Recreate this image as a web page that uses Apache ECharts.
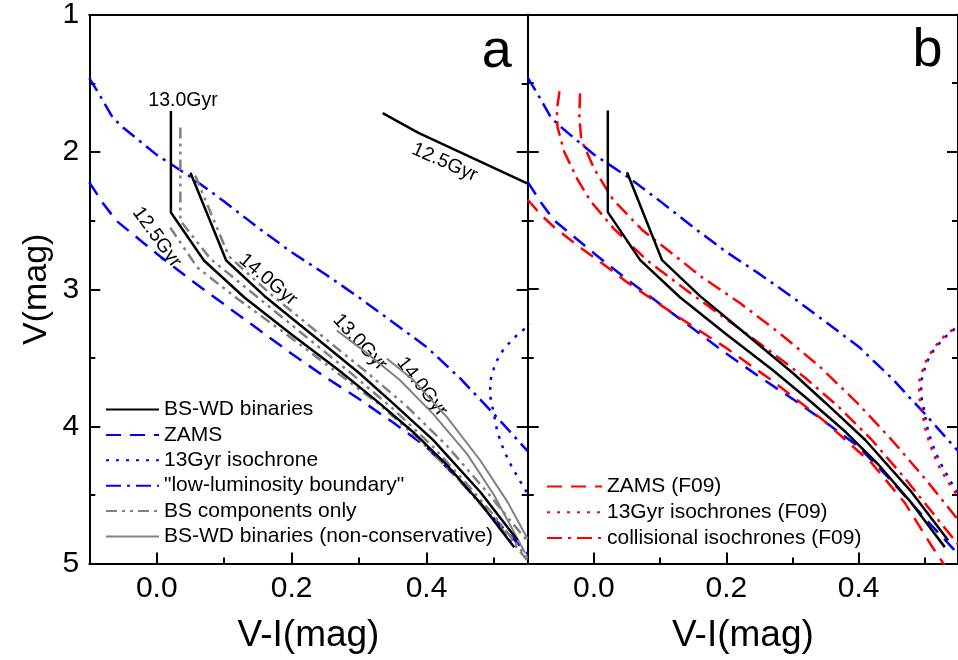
<!DOCTYPE html>
<html>
<head>
<meta charset="utf-8">
<script src="https://cdn.jsdelivr.net/npm/echarts@6/dist/echarts.min.js"></script>
<style>
  html, body { margin: 0; padding: 0; background: #fff; }
  #chart { width: 958px; height: 660px; }
</style>
</head>
<body>
<div id="chart"></div>
<script>
// axis ticks (both panels share the same ranges)
const xMajorTicks = [0, 0.2, 0.4];
const xMinorTicks = [0.1, 0.3, 0.5];

// [V-I, V] pairs
const zams = [[-0.1, 2.22], [-0.08, 2.37], [-0.06, 2.5], [-0.02, 2.66], [0.0, 2.74], [0.05, 2.93], [0.1, 3.11], [0.15, 3.29], [0.2, 3.47], [0.25, 3.64], [0.3, 3.8], [0.35, 3.97], [0.4, 4.15], [0.45, 4.4], [0.5, 4.67], [0.55, 4.93]];
const iso13 = [[0.58, 3.15], [0.55, 3.27], [0.535, 3.33], [0.515, 3.43], [0.502, 3.54], [0.495, 3.66], [0.494, 3.77], [0.499, 3.89], [0.505, 4.04], [0.515, 4.18], [0.527, 4.3], [0.54, 4.41], [0.55, 4.49], [0.57, 4.62]];
const lowLum = [[-0.1, 1.46], [-0.085, 1.58], [-0.065, 1.75], [-0.05, 1.82], [0.0, 2.02], [0.05, 2.18], [0.1, 2.36], [0.15, 2.55], [0.2, 2.73], [0.25, 2.89], [0.3, 3.06], [0.35, 3.24], [0.4, 3.42], [0.45, 3.65], [0.5, 3.91], [0.55, 4.18]];

const bswd13 = [[0.021, 1.7], [0.021, 2.44], [0.07, 2.79], [0.13, 3.06], [0.2, 3.33], [0.27, 3.59], [0.33, 3.83], [0.38, 4.04], [0.43, 4.28], [0.48, 4.56], [0.53, 4.88]];
const bswd14 = [[0.05, 2.15], [0.103, 2.79], [0.16, 3.05], [0.23, 3.33], [0.3, 3.61], [0.35, 3.83], [0.41, 4.1], [0.48, 4.48], [0.535, 4.83]];
const bswd125 = [[0.335, 1.715], [0.388, 1.86], [0.55, 2.23]];

const bsOnly13 = [[0.035, 1.82], [0.035, 2.5], [0.08, 2.78], [0.15, 3.06], [0.22, 3.34], [0.29, 3.62], [0.35, 3.87], [0.41, 4.15], [0.46, 4.42], [0.5, 4.65], [0.55, 4.96]];
const bsOnly125 = [[0.02, 2.55], [0.06, 2.84], [0.12, 3.07], [0.19, 3.32], [0.26, 3.58], [0.33, 3.84], [0.39, 4.1], [0.45, 4.4], [0.5, 4.68], [0.55, 4.98]];
const bsOnly14 = [[0.057, 2.17], [0.107, 2.76], [0.17, 3.04], [0.24, 3.32], [0.31, 3.6], [0.37, 3.85], [0.43, 4.14], [0.49, 4.48], [0.55, 4.84]];

const nonCons13 = [[0.267, 3.3], [0.31, 3.46], [0.36, 3.66], [0.41, 3.91], [0.46, 4.2], [0.5, 4.5], [0.546, 4.92]];
const nonCons14 = [[0.341, 3.505], [0.38, 3.66], [0.43, 3.93], [0.48, 4.25], [0.52, 4.55], [0.55, 4.82]];

const zamsF09 = [[-0.1, 2.35], [-0.08, 2.46], [-0.06, 2.55], [-0.02, 2.7], [0.02, 2.84], [0.05, 2.95], [0.12, 3.18], [0.2, 3.43], [0.27, 3.67], [0.345, 3.95], [0.42, 4.27], [0.47, 4.56], [0.51, 4.87], [0.535, 5.05]];
const iso13F09 = [[0.575, 3.15], [0.55, 3.27], [0.532, 3.33], [0.513, 3.43], [0.5, 3.54], [0.492, 3.66], [0.491, 3.77], [0.496, 3.9], [0.502, 4.05], [0.512, 4.19], [0.523, 4.31], [0.537, 4.42], [0.55, 4.51], [0.57, 4.64]];
const collF09a = [[-0.052, 1.56], [-0.056, 1.7], [-0.055, 1.82], [-0.045, 2.0], [-0.025, 2.2], [-0.005, 2.36], [0.03, 2.56], [0.08, 2.79], [0.14, 3.01], [0.2, 3.22], [0.26, 3.43], [0.32, 3.65], [0.37, 3.86], [0.42, 4.1], [0.47, 4.38], [0.51, 4.62], [0.55, 4.86]];
const collF09b = [[-0.021, 1.575], [-0.022, 1.75], [-0.019, 1.915], [0.001, 2.13], [0.029, 2.35], [0.073, 2.57], [0.123, 2.76], [0.162, 2.91], [0.22, 3.1], [0.28, 3.32], [0.34, 3.56], [0.4, 3.84], [0.45, 4.1], [0.5, 4.38], [0.54, 4.62], [0.56, 4.74]];

// annotations: text, V-I, V, rotation (deg), colour
const notesA = [
  ['13.0Gyr', 0.039, 1.623, 0, '#000'],
  ['12.5Gyr', 0.427, 2.075, -24, '#000'],
  ['12.5Gyr', 0.0, 2.62, -54, '#000'],
  ['14.0Gyr', 0.165, 2.93, -40, '#000'],
  ['13.0Gyr', 0.301, 3.386, -47, '#000'],
  ['14.0Gyr', 0.393, 3.71, -52, '#000']
];

const legendA = ['BS-WD binaries', 'ZAMS', '13Gyr isochrone', '"low-luminosity boundary"', 'BS components only', 'BS-WD binaries (non-conservative)'];
const legendB = ['ZAMS (F09)', '13Gyr isochrones (F09)', 'collisional isochrones (F09)'];

const FONT = '"Liberation Sans", Arial, sans-serif';
const BLUE = '#0000ff', RED = '#ff0000', GRAY = '#808080', BLACK = '#000000';
const DASH = [15, 9], DOT = [3, 7], DASHDOT = [15, 6, 3, 6], DASHDOTDOT = [11, 5, 3, 5, 3, 5];

const chart = echarts.init(document.getElementById('chart'));

const axisLine = { show: true, onZero: false, lineStyle: { color: BLACK, width: 2 } };
const tickStyle = { color: BLACK, width: 2 };

function xAxes(g) {
  const base = { gridIndex: g, type: 'value', min: -0.1, max: 0.55, splitLine: { show: false } };
  return [
    Object.assign({}, base, {
      position: 'bottom',
      axisLine,
      axisTick: { show: true, inside: true, length: 11, customValues: xMajorTicks, lineStyle: tickStyle },
      axisLabel: { customValues: xMajorTicks, formatter: (v) => v.toFixed(1), fontSize: 30, color: BLACK, margin: 10, fontFamily: FONT },
      name: 'V-I(mag)', nameLocation: 'middle', nameGap: 54,
      nameTextStyle: { fontSize: 37, color: BLACK, fontFamily: FONT }
    }),
    Object.assign({}, base, {
      position: 'bottom',
      axisLine: { show: false, onZero: false },
      axisTick: { show: true, inside: true, length: 6, customValues: xMinorTicks, lineStyle: tickStyle },
      axisLabel: { show: false }
    }),
    Object.assign({}, base, {
      position: 'top', axisLine, axisTick: { show: false }, axisLabel: { show: false }
    })
  ];
}

function yAxes(g) {
  const base = {
    gridIndex: g, type: 'value', inverse: true, min: 1, max: 5, interval: 1,
    axisLine,
    axisTick: { show: true, inside: true, length: 11, lineStyle: tickStyle },
    minorTick: { show: true, splitNumber: 2, length: 6, lineStyle: tickStyle },
    splitLine: { show: false }, minorSplitLine: { show: false }
  };
  return [
    Object.assign({}, base, {
      position: 'left',
      axisLabel: { show: g === 0, fontSize: 30, color: BLACK, margin: 10, fontFamily: FONT },
      name: g === 0 ? 'V(mag)' : '', nameLocation: 'middle', nameGap: 36,
      nameTextStyle: { fontSize: 34, color: BLACK, fontFamily: FONT }
    }),
    Object.assign({}, base, { position: 'right', axisLabel: { show: false } })
  ];
}

function line(name, data, panel, color, type, width) {
  return {
    name, type: 'line', data,
    xAxisIndex: panel * 3, yAxisIndex: panel * 2,
    symbol: 'none', silent: true, clip: true,
    lineStyle: { color, type, width },
    itemStyle: { color }
  };
}

const series = [
  // panel a
  line('ZAMS', zams, 0, BLUE, DASH, 2.5),
  line('13Gyr isochrone', iso13, 0, BLUE, DOT, 2.5),
  line('"low-luminosity boundary"', lowLum, 0, BLUE, DASHDOT, 2.5),
  line('BS components only', bsOnly13, 0, GRAY, DASHDOTDOT, 2.5),
  line('BS components only', bsOnly125, 0, GRAY, DASHDOTDOT, 2.5),
  line('BS components only', bsOnly14, 0, GRAY, DASHDOTDOT, 2.5),
  line('BS-WD binaries (non-conservative)', nonCons13, 0, GRAY, 'solid', 2),
  line('BS-WD binaries (non-conservative)', nonCons14, 0, GRAY, 'solid', 2),
  line('BS-WD binaries', bswd13, 0, BLACK, 'solid', 2.5),
  line('BS-WD binaries', bswd14, 0, BLACK, 'solid', 2.5),
  line('BS-WD binaries', bswd125, 0, BLACK, 'solid', 2.5),
  // panel b
  line('ZAMS', zams, 1, BLUE, DASH, 2.5),
  line('13Gyr isochrone', iso13, 1, BLUE, DOT, 2.5),
  line('"low-luminosity boundary"', lowLum, 1, BLUE, DASHDOT, 2.5),
  line('ZAMS (F09)', zamsF09, 1, RED, DASH, 2.5),
  line('13Gyr isochrones (F09)', iso13F09, 1, RED, DOT, 2.5),
  line('collisional isochrones (F09)', collF09a, 1, RED, DASHDOT, 2.5),
  line('collisional isochrones (F09)', collF09b, 1, RED, DASHDOT, 2.5),
  line('BS-WD binaries', bswd13, 1, BLACK, 'solid', 2.5),
  line('BS-WD binaries', bswd14, 1, BLACK, 'solid', 2.5)
];

const legendCommon = {
  orient: 'vertical', itemHeight: 14, selectedMode: false,
  itemStyle: { opacity: 0 },
  textStyle: { fontSize: 21, color: BLACK, fontFamily: FONT }
};

chart.setOption({
  animation: false,
  backgroundColor: '#fff',
  textStyle: { fontFamily: FONT },
  grid: [
    { left: 89.3, top: 14.4, width: 438.4, height: 549.2 },
    { left: 527.7, top: 14.4, width: 438.4, height: 549.2 }
  ],
  xAxis: xAxes(0).concat(xAxes(1)),
  yAxis: yAxes(0).concat(yAxes(1)),
  legend: [
    Object.assign({ data: legendA, left: 100, top: 394, itemWidth: 53, itemGap: 4.4 }, legendCommon),
    Object.assign({ data: legendB, left: 541, top: 471, itemWidth: 55, itemGap: 4.8 }, legendCommon)
  ],
  series
});

// annotation text placed through the axes
const graphics = notesA.map(([text, x, y, rot, color]) => {
  const p = chart.convertToPixel({ xAxisIndex: 0, yAxisIndex: 0 }, [x, y]);
  return {
    type: 'text', x: p[0], y: p[1], rotation: rot * Math.PI / 180, silent: true,
    style: { text, fill: color, font: '19.5px ' + FONT, align: 'center', verticalAlign: 'middle' }
  };
});
['a', 'b'].forEach((t, i) => {
  const p = chart.convertToPixel({ xAxisIndex: i * 3, yAxisIndex: i * 2 }, [0.504, 1.27]);
  graphics.push({
    type: 'text', x: p[0], y: p[1], silent: true,
    style: { text: t, fill: BLACK, font: '54px ' + FONT, align: 'center', verticalAlign: 'middle' }
  });
});
chart.setOption({ graphic: graphics });
</script>
</body>
</html>
